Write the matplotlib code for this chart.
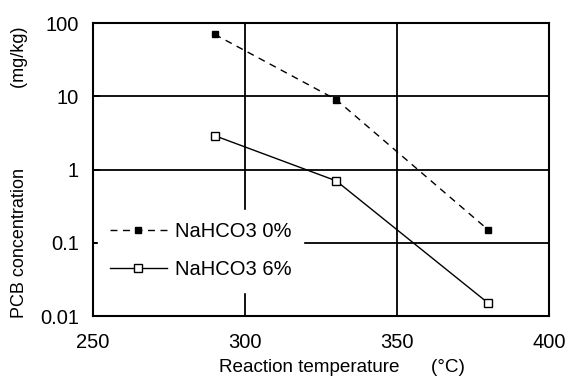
import matplotlib
matplotlib.use("Agg")
import matplotlib.pyplot as plt
from matplotlib.ticker import FixedLocator, FixedFormatter, NullLocator

plt.rcParams['font.family'] = ['Liberation Sans', 'DejaVu Sans']

temps = [290, 330, 380]
nahco3_0 = [70, 9, 0.15]
nahco3_6 = [2.9, 0.7, 0.015]
x_ticks = [250, 300, 350, 400]
y_ticks = [0.01, 0.1, 1, 10, 100]
y_labels = ['0.01', '0.1', '1', '10', '100']

fig = plt.figure(figsize=(5.7, 3.8), dpi=100)
ax = fig.add_axes([93/570, 1-316/380, (549-93)/570, (316-23)/380])

ax.set_yscale('log')
ax.set_xlim(250, 400)
ax.set_ylim(0.01, 100)

for v in [300, 350]:
    ax.axvline(v, color='black', lw=1.3, zorder=1)
for v in [0.1, 1, 10]:
    ax.axhline(v, color='black', lw=1.3, zorder=1)

ax.plot(temps, nahco3_0, ls=(0, (5, 4)), color='black', lw=1.0,
        marker='s', ms=5, mfc='black', mec='black', label='NaHCO3 0%', zorder=3)
ax.plot(temps, nahco3_6, ls='-', color='black', lw=1.0,
        marker='s', ms=6, mfc='white', mec='black', mew=1.0, label='NaHCO3 6%', zorder=3)

ax.xaxis.set_major_locator(FixedLocator(x_ticks))
ax.yaxis.set_major_locator(FixedLocator(y_ticks))
ax.yaxis.set_major_formatter(FixedFormatter(y_labels))
ax.yaxis.set_minor_locator(NullLocator())
ax.tick_params(axis='x', length=0, labelsize=14.5, pad=12)
ax.tick_params(axis='y', length=5, direction='in', width=1.3, labelsize=14.5, pad=10)

for s in ax.spines.values():
    s.set_linewidth(1.5)

leg = ax.legend(loc='lower left', bbox_to_anchor=(-0.011, 0.049), frameon=True,
                fontsize=14.5, handlelength=2.8, handletextpad=0.4,
                labelspacing=0.95, borderpad=0.6)
leg.get_frame().set_edgecolor('white')
leg.get_frame().set_facecolor('white')
leg.get_frame().set_alpha(1.0)
leg.set_zorder(2)

ax.set_xlabel('Reaction temperature' + ' ' * 6 + '(°C)', fontsize=13.6)
ax.xaxis.set_label_coords(0.545, -0.147)
ax.set_ylabel('PCB concentration' + ' ' * 16 + '(mg/kg)', fontsize=13)
ax.yaxis.set_label_coords(-0.1425, 0.49)

fig.savefig('out.png', dpi=100)
